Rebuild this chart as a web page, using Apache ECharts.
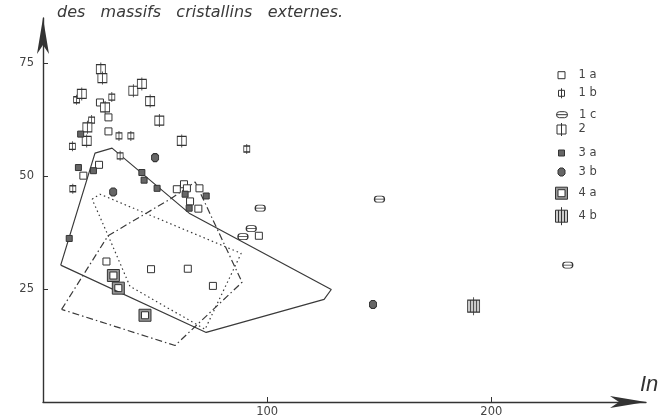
<!DOCTYPE html>
<html><head><meta charset="utf-8">
<script src="https://cdn.jsdelivr.net/npm/echarts@6/dist/echarts.min.js"></script>
<style>html,body{margin:0;padding:0;background:#fff}#c{width:664px;height:418px}</style>
</head><body><div id="c"></div>
<script>
// ---- data ----
const titleText = 'des   massifs   cristallins   externes.';
const axisName = 'In';
const seriesNames = ['1a', '1b', '1c', '2', '3a', '3b', '4a', '4b'];
const xTicks = [100, 200];
const yTicks = [25, 50, 75];

const s1a = [[25.0,52.5],[18.0,50.1],[29.2,63.0],[29.2,59.9],[25.4,66.3],[59.7,47.1],[62.9,48.2],[64.2,47.3],[69.8,47.3],[65.6,44.4],[69.3,42.8],[96.3,36.8],[28.3,31.1],[48.2,29.4],[64.6,29.5],[75.8,25.7]];
const s1b = [[15.0,66.9],[30.7,67.5],[21.7,62.4],[33.9,58.9],[39.2,58.9],[13.1,56.6],[13.3,47.2],[34.4,54.5],[90.9,56.0]];
const s1c = [[96.9,42.9],[92.9,38.4],[89.2,36.6],[150.1,44.9],[234.1,30.3]];
const s2 = [[25.8,73.7],[26.5,71.7],[17.3,68.2],[27.7,65.2],[19.8,60.8],[19.5,57.8],[40.3,68.9],[44.1,70.4],[47.8,66.6],[51.9,62.3],[61.9,57.8]];
const s3a = [[16.8,59.3],[15.8,51.9],[22.5,51.2],[11.7,36.2],[44.1,50.8],[45.1,49.1],[50.9,47.3],[63.4,46.0],[72.8,45.6],[65.2,42.9]];
const s3b = [[50.0,54.1],[31.3,46.5],[147.2,21.6]];
const s4a = [[31.4,28.0],[33.6,25.2],[45.5,19.2]];
const s4b = [[192.1,21.2]];

const polySolid = [[7.9,30.3],[23.2,55.1],[30.8,56.2],[65.2,41.8],[128.6,24.9],[125.4,22.7],[72.8,15.4],[7.9,30.3]];
const polyDotted = [[21.9,44.9],[25.4,46.0],[88.4,32.9],[72.3,16.1],[38.8,25.6],[29.0,36.9],[21.9,44.9]];
const polyDashDot = [[8.3,20.5],[29.0,36.8],[56.7,44.9],[67.9,48.7],[88.8,26.5],[58.9,12.5],[8.3,20.5]];

// ---- styling ----
const ink = '#333';
const sym = {
  '1a': {path: 'path://M0,0L7,0L7,7L0,7Z', size: [7, 7], fill: '#fff'},
  '1b': {path: 'path://M0,2L6,2L6,8L0,8Z M3,0L3,10', size: [6, 10], fill: '#fff'},
  '1c': {path: 'path://M3,0L8,0A3,3 0 0 1 8,6L3,6A3,3 0 0 1 3,0Z M0,3L11,3', size: [10, 6], fill: '#fff'},
  '2':  {path: 'path://M0,2L9,2L9,11L0,11Z M4.5,0L4.5,13', size: [9, 13], fill: '#fff'},
  '3a': {path: 'path://M0,0L6,0L6,6L0,6Z', size: [6, 6], fill: '#666'},
  '3b': {path: 'path://M2,0L5,0L7,2L7,6L5,8L2,8L0,6L0,2Z', size: [7, 8], fill: '#666'},
  '4a': {path: 'path://M0,0L12,0L12,12L0,12Z M2.5,2.5L2.5,9.5L9.5,9.5L9.5,2.5Z', size: [12, 12], fill: '#999'},
  '4b': {path: 'path://M0,3L12,3L12,15L0,15Z M6,0L6,18 M3,3L3,15 M9,3L9,15', size: [12, 18], fill: '#ccc'}
};
const dataMap = {'1a': s1a, '1b': s1b, '1c': s1c, '2': s2, '3a': s3a, '3b': s3b, '4a': s4a, '4b': s4b};
const legendRows = [72.7, 92.3, 111.7, 129, 150, 170, 192.7, 215.7];
const legendIconX = 561;

const scatterSeries = seriesNames.map(n => ({
  name: n, type: 'scatter', data: dataMap[n], symbol: sym[n].path, symbolSize: sym[n].size,
  itemStyle: {color: sym[n].fill, borderColor: ink, borderWidth: 1, opacity: 1},
  emphasis: {disabled: true}, z: 5
}));
const polyStyle = (data, type) => ({
  type: 'line', data: data, symbol: 'none', silent: true, z: 3,
  lineStyle: {color: '#3a3a3a', width: 1.2, type: type}
});

const legends = seriesNames.map((n, i) => ({
  data: [n], orient: 'vertical', left: legendIconX - sym[n].size[0] / 2, top: legendRows[i] - sym[n].size[1] / 2,
  padding: 0, itemWidth: 24, itemHeight: sym[n].size[1], selectedMode: false,
  itemStyle: {borderWidth: 1},
  formatter: name => name.replace(/^(\d)([a-z])$/, '$1 $2'),
  textStyle: {fontSize: 11.5, color: '#444', fontFamily: 'DejaVu Sans'}
}));

const chart = echarts.init(document.getElementById('c'), null, {renderer: 'canvas'});
chart.setOption({
  animation: false,
  backgroundColor: '#fff',
  title: {text: titleText, left: 57, top: 5, padding: 0,
    textStyle: {fontStyle: 'italic', fontWeight: 'normal', fontSize: 16, fontFamily: 'DejaVu Sans', color: '#3a3a3a'}},
  legend: legends,
  grid: {left: 43, right: 18, top: 18, bottom: 16, containLabel: false},
  xAxis: {
    type: 'value', min: 0, max: 269,
    axisLine: {show: true, onZero: false, symbol: ['none', 'arrow'], symbolSize: [9, 36], lineStyle: {color: ink, width: 1.4}},
    axisTick: {show: true, inside: true, length: 5, customValues: xTicks, lineStyle: {color: ink}},
    axisLabel: {customValues: xTicks, color: '#444', fontSize: 11.5, margin: 4, fontFamily: 'DejaVu Sans'},
    splitLine: {show: false}
  },
  yAxis: {
    type: 'value', min: 0, max: 85,
    axisLine: {show: true, onZero: false, symbol: ['none', 'arrow'], symbolSize: [9, 36], lineStyle: {color: ink, width: 1.4}},
    axisTick: {show: true, inside: true, length: 5, customValues: yTicks, lineStyle: {color: ink}},
    axisLabel: {customValues: yTicks, color: '#444', fontSize: 11.5, margin: 9, fontFamily: 'DejaVu Sans'},
    splitLine: {show: false}
  },
  graphic: [{type: 'text', left: 640, top: 374,
    style: {text: axisName, font: 'italic 22px "Liberation Sans"', fill: '#333'}}],
  series: [
    polyStyle(polySolid, 'solid'),
    polyStyle(polyDotted, [1.5, 3]),
    polyStyle(polyDashDot, [7, 3, 1.5, 3])
  ].concat(scatterSeries)
});
</script></body></html>
